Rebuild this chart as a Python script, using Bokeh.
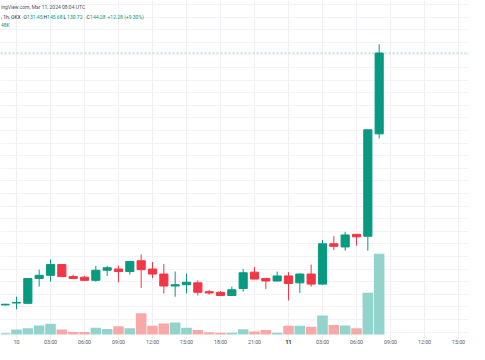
from bokeh.plotting import figure
from bokeh.models import Range1d, FixedTicker, Span, Label, ColumnDataSource
from bokeh.core.properties import value
from bokeh.embed import file_html
from bokeh.resources import INLINE

# ---- data (1h candles, OKX, Mar 9 23:00 -> Mar 11 08:00 UTC) ----
hours = list(range(-1, 33))  # hours since Mar 10 00:00 UTC
opens = [104.3, 104.6, 104.55, 108.5, 109.0, 110.7, 108.8, 108.7, 108.2, 109.8,
         110.0, 109.6, 111.3, 110.0, 109.2, 107.3, 107.5, 107.8, 106.4, 106.3,
         105.8, 106.9, 109.5, 108.5, 108.1, 108.9, 107.8, 109.2, 107.6, 114.0,
         113.5, 115.5, 115.2, 131.45]
highs = [104.5, 105.6, 108.5, 109.9, 111.5, 110.8, 109.1, 108.9, 110.5, 110.5,
         110.5, 111.3, 112.3, 111.1, 110.8, 109.6, 109.3, 108.2, 106.7, 106.5,
         107.2, 110.0, 110.3, 108.6, 109.6, 109.5, 109.3, 110.7, 114.6, 115.2,
         115.9, 115.5, 132.1, 145.68]
lows = [104.2, 103.6, 104.4, 107.2, 108.0, 108.7, 108.4, 108.1, 108.0, 108.9,
        107.9, 109.1, 107.0, 108.5, 106.1, 105.6, 106.1, 105.8, 105.9, 105.7,
        105.7, 106.4, 108.4, 106.8, 108.0, 105.0, 106.2, 107.2, 107.5, 113.0,
        112.9, 113.7, 112.9, 130.72]
closes = [104.4, 104.7, 108.5, 109.0, 110.7, 108.8, 108.5, 108.2, 109.8, 110.2,
          109.6, 111.2, 109.9, 109.2, 107.3, 107.5, 107.9, 106.3, 106.2, 105.8,
          106.7, 109.4, 108.4, 108.1, 108.9, 107.7, 109.2, 107.6, 114.0, 113.6,
          115.4, 115.1, 132.1, 144.28]
volumes_k = [4, 15, 19, 28, 33, 15, 8, 8, 21, 17,
             25, 19, 65, 27, 34, 37, 21, 14, 7, 5,
             5, 16, 9, 14, 5, 27, 27, 24, 58, 29,
             28, 19, 128, 248]

tick_hours = [0, 3, 6, 9, 12, 15, 18, 21, 24, 27, 30, 33, 36, 39]
tick_labels = ["10", "03:00", "06:00", "09:00", "12:00", "15:00", "18:00",
               "21:00", "11", "03:00", "06:00", "09:00", "12:00", "15:00"]
bold_labels = {"11"}

header_title = "ingView.com, Mar 11, 2024 08:04 UTC"
header_symbol = ", 1h, OKX"
ohlc_letters = ["O", "H", "L", "C"]
ohlc_values = ["131.45", "145.68", "130.72", "144.28"]
header_change = "+12.28 (+9.30%)"
header_volume = "48K"

# ---- layout calibration (pixel geometry of the reference) ----
W, H = 469, 344
PXH = 272 / 24.0          # px per hour
X0_REF = 16.0             # reference x of Mar 10 00:00
PPU = 6.3                 # px per price unit
P_REF, Y_REF = 144.0, 54.3
VOL_BASE_REF = 334.0
K_PER_PX = 3.07
OFF = 0.0


def hx(refx):
    return (refx - X0_REF) / PXH


def py(refy):
    return P_REF - (refy - Y_REF) / PPU


def vy(refy):
    return (VOL_BASE_REF - refy) * K_PER_PX


x_start = hx(OFF)
x_end = x_start + W / PXH
y_end = py(OFF)
y_start = y_end - H / PPU
v_start = vy(OFF + H)
v_end = v_start + H * K_PER_PX

UP, DOWN = "#089981", "#f23645"
VUP, VDOWN = "#92d3cb", "#f7a8a7"

p = figure(width=W, height=H, output_backend="svg", toolbar_location=None,
           x_range=Range1d(x_start, x_end), y_range=Range1d(y_start, y_end),
           min_border=0, min_border_left=0, min_border_right=0,
           min_border_top=0, min_border_bottom=0)
p.extra_y_ranges = {"vol": Range1d(v_start, v_end)}
p.xaxis.visible = False
p.yaxis.visible = False
p.outline_line_color = None
p.background_fill_color = "white"
p.border_fill_color = "white"

p.xgrid.ticker = FixedTicker(ticks=tick_hours)
p.ygrid.ticker = FixedTicker(ticks=list(range(96, 154, 2)))
p.xgrid.grid_line_color = "#eef0f3"
p.ygrid.grid_line_color = "#f1f3f6"
p.grid.grid_line_width = 1

up = [c >= o for o, c in zip(opens, closes)]
src = ColumnDataSource(dict(
    x=hours, o=opens, h=highs, l=lows, c=closes, v=volumes_k,
    top=[max(o, c) for o, c in zip(opens, closes)],
    bot=[min(o, c) for o, c in zip(opens, closes)],
    col=[UP if u else DOWN for u in up],
    vcol=[VUP if u else VDOWN for u in up],
))

# volume bars
p.vbar(x="x", top="v", bottom=0, width=0.93, fill_color="vcol",
       line_color=None, source=src, y_range_name="vol")

# last price line
last_line = Span(location=closes[-1], dimension="width", line_color=UP,
                 line_alpha=0.45, line_width=1, line_dash="2 2")
p.add_layout(last_line)

# candles
p.segment(x0="x", y0="l", x1="x", y1="h", line_color="col", line_width=1,
          source=src)
p.vbar(x="x", top="top", bottom="bot", width=0.72, fill_color="col",
       line_color="col", line_width=1, source=src)

# time labels
lab_y = vy(341.0)
reg = [(t, s) for t, s in zip(tick_hours, tick_labels) if s not in bold_labels]
bold = [(t, s) for t, s in zip(tick_hours, tick_labels) if s in bold_labels]
p.text(x=[t for t, _ in reg], y=lab_y, text=[s for _, s in reg],
       y_range_name="vol", text_font=value("Roboto"), text_font_size="5.3px",
       text_color="#555a66", text_align="center", text_baseline="middle")
p.text(x=[t for t, _ in bold], y=lab_y, text=[s for _, s in bold],
       y_range_name="vol", text_font=value("Roboto"), text_font_size="5.3px",
       text_font_style="bold", text_color="#1f232e", text_align="center",
       text_baseline="middle")


# header
def lab(text, refx, refy, color, style="normal"):
    p.add_layout(Label(x=hx(refx), y=py(refy), text=text, text_font="Roboto",
                       text_font_size="5px", text_color=color,
                       text_font_style=style, text_baseline="middle",
                       text_align="left"))


lab(header_title, 0.5, 6.0, "#50535e")
lab(header_symbol, 0.5, 16.5, "#2a2e39")
letter_x = [23, 43, 63, 86]
for L, V, lx in zip(ohlc_letters, ohlc_values, letter_x):
    lab(L, lx, 16.5, "#2a2e39")
    lab(V, lx + 3.6, 16.5, UP)
lab(header_change, 107, 16.5, UP)
lab(header_volume, 0.5, 24.5, UP)

open("out.html", "w").write(file_html(p, INLINE))
